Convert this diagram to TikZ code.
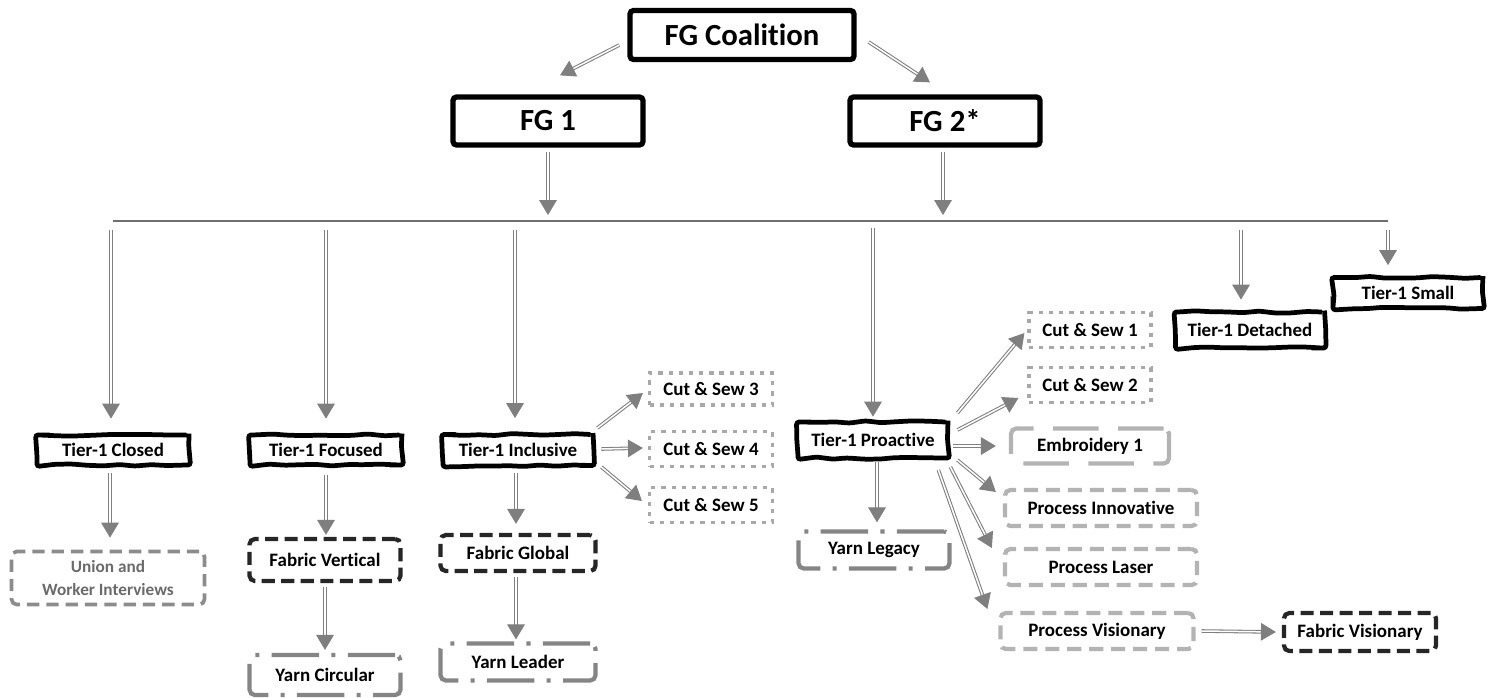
\documentclass[tikz,border=0pt]{standalone}
\usepackage{fontspec}
\setmainfont{Carlito}[RawFeature={-liga;-clig;-calt;-dlig;-rlig}]
\usetikzlibrary{arrows.meta,calc,decorations.pathmorphing}
\definecolor{arrgray}{HTML}{7F7F7F}
\definecolor{lineg}{HTML}{6E6E6E}
\definecolor{lightg}{HTML}{B3B3B3}
\definecolor{dotg}{HTML}{A8A8A8}
\definecolor{darkd}{HTML}{262626}
\definecolor{yarng}{HTML}{858585}
\definecolor{uniong}{HTML}{8C8C8C}
\definecolor{uniontxt}{HTML}{6A6A6A}
\tikzset{
  sz/.style 2 args={minimum width=#1*0.02cm, minimum height=#2*0.02cm, inner sep=0pt},
  topbox/.style={draw=black, line width=3pt, rounded corners=2pt, fill=white,
    font=\fontsize{17.5}{20}\selectfont\bfseries},
  tierbox/.style={draw=black, line width=2.7pt, fill=white,
    font=\fontsize{10.8}{13}\selectfont\bfseries,
    decorate, decoration={random steps, segment length=9pt, amplitude=0.7pt}, rounded corners=1.5pt},
  txt/.style={font=\fontsize{10.8}{13}\selectfont\bfseries},
  fabbox/.style={txt, draw=darkd, line width=2.4pt, rounded corners=3pt, dash pattern=on 7.5pt off 3.6pt},
  unionbox/.style={draw=uniong, line width=2.1pt, rounded corners=3pt, dash pattern=on 7pt off 4pt,
    text=uniontxt, align=center, font=\fontsize{9.8}{13}\selectfont\bfseries},
  yarnbox/.style={txt, draw=yarng, line width=2.4pt, rounded corners=3pt,
    dash pattern=on 27pt off 7pt on 2.3pt off 7pt},
  csbox/.style={txt, draw=dotg, line width=1.8pt, dash pattern=on 2.4pt off 3.4pt},
  embbox/.style={txt, draw=lightg, line width=2.4pt, rounded corners=3pt, dash pattern=on 26pt off 11pt},
  procbox/.style={txt, draw=lightg, line width=2.4pt, rounded corners=3pt, dash pattern=on 8pt off 4.5pt},
  arr/.style={draw=arrgray, double=white, double distance=0.85pt, line width=0.6pt,
    -{Triangle[length=8.5pt,width=10pt]}},
  hline/.style={draw=lineg, line width=0.8pt}
}
\begin{document}
\begin{tikzpicture}[x=0.02cm, y=-0.02cm]
\useasboundingbox (0,0) rectangle (1497,697);
\pgfmathsetseed{11}
% top level
\node[topbox, sz={224}{49}] (coal) at (742,35) {FG Coalition};
\node[topbox, sz={190}{48}] (fg1) at (548,121) {FG 1};
\node[topbox, sz={190}{48}] (fg2) at (945,121) {FG 2*};
% tier-1
\node[tierbox, sz={152}{30}] (closed) at (113,450) {Tier-1 Closed};
\node[tierbox, sz={152}{30}] (focused) at (326,450) {Tier-1 Focused};
\node[tierbox, sz={150}{31}] (inclusive) at (518,450) {Tier-1 Inclusive};
\node[tierbox, sz={150}{36}] (proactive) at (873,440) {Tier-1 Proactive};
\node[tierbox, sz={149}{36}] (detached) at (1250,330) {Tier-1 Detached};
\node[tierbox, sz={150}{31}] (small) at (1408,293) {Tier-1 Small};
% lower boxes
\node[unionbox, sz={193}{53}] (union) at (108,578) {Union and\\Worker Interviews};
\node[fabbox, sz={151}{42}] (fabvert) at (325,560) {Fabric Vertical};
\node[yarnbox, sz={151}{40}] (yarncirc) at (325,675) {Yarn Circular};
\node[fabbox, sz={155}{36}] (fabglob) at (518,553) {Fabric Global};
\node[yarnbox, sz={155}{37}] (yarnlead) at (518,662) {Yarn Leader};
\node[csbox, sz={123}{32}] (cs3) at (711,389) {Cut \& Sew 3};
\node[csbox, sz={123}{35}] (cs4) at (711,449) {Cut \& Sew 4};
\node[csbox, sz={123}{35}] (cs5) at (711,505) {Cut \& Sew 5};
\node[csbox, sz={122}{35}] (cs1) at (1090,330) {Cut \& Sew 1};
\node[csbox, sz={122}{35}] (cs2) at (1090,385) {Cut \& Sew 2};
\node[embbox, sz={158}{35}] (emb1) at (1090,446) {Embroidery 1};
\node[procbox, sz={192}{36}] (pinnov) at (1101,508) {Process Innovative};
\node[procbox, sz={192}{36}] (plaser) at (1101,567) {Process Laser};
\node[procbox, sz={193}{36}] (pvis) at (1097,631) {Process Visionary};
\node[fabbox, sz={152}{38}] (fabvis) at (1360,632) {Fabric Visionary};
\node[yarnbox, sz={151}{37}] (yarnleg) at (874,550) {Yarn Legacy};
% horizontal line
\coordinate (lineL) at (113,221);
\coordinate (lineR) at (1388,221);
\draw[hline] (lineL) -- (lineR);
% top arrows
\draw[arr] ($(coal.west)+(-8,10)$) -- ($(fg1.north)+(12,-19)$);
\draw[arr] ($(coal.east)+(12,7)$) -- ($(fg2.north)+(-15,-12)$);
\draw[arr, shorten <=0.08cm, shorten >=0.12cm] (fg1.south) -- (fg1.south |- lineL);
\draw[arr, shorten <=0.08cm, shorten >=0.12cm] ($(fg2.south)+(-2,0)$) -- ($(fg2.south |- lineL)+(-2,0)$);
% line to tier-1
\draw[arr, shorten <=0.18cm, shorten >=0.28cm] ($(closed.north |- lineL)+(-2,0)$) -- ($(closed.north)+(-2,0)$);
\draw[arr, shorten <=0.18cm, shorten >=0.28cm] (focused.north |- lineL) -- (focused.north);
\draw[arr, shorten <=0.18cm, shorten >=0.28cm] ($(inclusive.north |- lineL)+(-3,0)$) -- ($(inclusive.north)+(-3,0)$);
\draw[arr, shorten <=0.14cm, shorten >=0.06cm] (proactive.north |- lineL) -- (proactive.north);
\draw[arr, shorten <=0.18cm, shorten >=0.2cm] ($(detached.north |- lineL)+(-9,0)$) -- ($(detached.north)+(-9,0)$);
\draw[arr, shorten <=0.18cm, shorten >=0.2cm] ($(small.north |- lineL)+(-20,0)$) -- ($(small.north)+(-20,0)$);
% vertical chains
\draw[arr, shorten <=0.12cm, shorten >=0.24cm] ($(closed.south)+(-3,0)$) -- ($(closed.south |- union.north)+(-3,0)$);
\draw[arr, shorten <=0.16cm, shorten >=0.04cm] (focused.south) -- (focused.south |- fabvert.north);
\draw[arr, shorten <=0.08cm, shorten >=0.06cm] (fabvert.south) -- (fabvert.south |- yarncirc.north);
\draw[arr, shorten <=0.1cm, shorten >=0.18cm] ($(inclusive.south)+(-2,0)$) -- ($(inclusive.south |- fabglob.north)+(-2,0)$);
\draw[arr, shorten <=0.08cm, shorten >=0.04cm] ($(fabglob.south)+(-2,0)$) -- ($(fabglob.south |- yarnlead.north)+(-2,0)$);
\draw[arr, shorten <=0.04cm, shorten >=0.14cm] ($(proactive.south)+(4,0)$) -- ($(proactive.south |- yarnleg.north)+(4,0)$);
% inclusive fan
\draw[arr] ($(inclusive.east)+(2,-22)$) -- ($(cs3.west)+(-5,4)$);
\draw[arr] ($(inclusive.east)+(6,-1)$) -- ($(cs4.west)+(-5,-1)$);
\draw[arr] ($(inclusive.east)+(6,17)$) -- ($(cs5.west)+(-6,-4)$);
% proactive fan
\draw[arr] ($(proactive.east)+(7,-27)$) -- ($(cs1.west)+(-3,3)$);
\draw[arr] ($(proactive.east)+(7,-10)$) -- ($(cs2.west)+(-9,13)$);
\draw[arr] ($(proactive.east)+(3,6)$) -- ($(emb1.west)+(-13,0)$);
\draw[arr] ($(proactive.east)+(7,20)$) -- ($(pinnov.west)+(-7,-16)$);
\draw[arr] ($(proactive.east)+(0,27)$) -- ($(plaser.west)+(-11,-19)$);
\draw[arr] ($(proactive.east)+(-12,30)$) -- ($(pvis.west)+(-11,-22)$);
\draw[arr] ($(pvis.east)+(6,0)$) -- ($(fabvis.west)+(-6,0)$);
\end{tikzpicture}
\end{document}
